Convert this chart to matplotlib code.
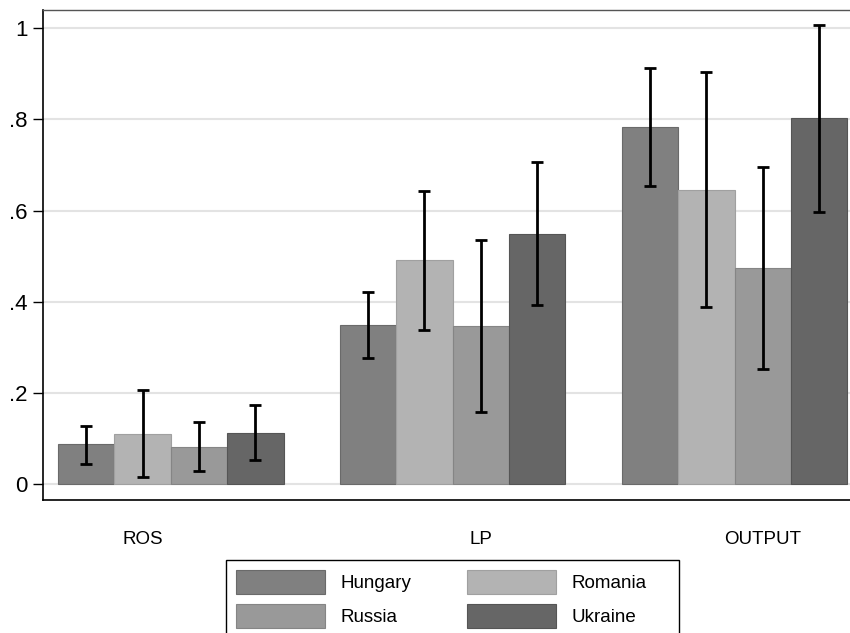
import numpy as np
import matplotlib
matplotlib.use("Agg")
import matplotlib.pyplot as plt
from matplotlib.patches import Rectangle

plt.rcParams['font.family'] = ['Liberation Sans', 'DejaVu Sans']

# data
groups = ["ROS", "LP", "OUTPUT"]
countries = ["Hungary", "Romania", "Russia", "Ukraine"]
colors = ["#808080", "#b3b3b3", "#999999", "#666666"]
edges = ["#6a6a6a", "#a0a0a0", "#858585", "#555555"]

hungary = [0.087, 0.350, 0.783]
romania = [0.110, 0.492, 0.646]
russia = [0.082, 0.347, 0.474]
ukraine = [0.113, 0.549, 0.802]

hungary_lo = [0.045, 0.277, 0.653]
hungary_hi = [0.128, 0.422, 0.912]
romania_lo = [0.015, 0.339, 0.389]
romania_hi = [0.206, 0.644, 0.905]
russia_lo = [0.029, 0.159, 0.252]
russia_hi = [0.136, 0.536, 0.696]
ukraine_lo = [0.053, 0.392, 0.597]
ukraine_hi = [0.173, 0.707, 1.007]

means = [hungary, romania, russia, ukraine]
lows = [hungary_lo, romania_lo, russia_lo, ukraine_lo]
highs = [hungary_hi, romania_hi, russia_hi, ukraine_hi]

yticks = [0, 0.2, 0.4, 0.6, 0.8, 1.0]
ytick_labels = ["0", ".2", ".4", ".6", ".8", "1"]
group_label_pos = [1.5, 7.5, 12.5]

fig = plt.figure(figsize=(8.5, 6.33), dpi=100)
ax = fig.add_axes([43 / 850, 1 - 500 / 633, 819 / 850, 490 / 633])

group_x = np.arange(len(groups)) * 5
bars = []
for j, name in enumerate(countries):
    x = group_x + j + 0.5
    b = ax.bar(x, means[j], width=1.0, color=colors[j], edgecolor=edges[j],
               linewidth=0.8, label=name, zorder=2)
    bars.append(b)
    m = np.array(means[j])
    err = [m - np.array(lows[j]), np.array(highs[j]) - m]
    ax.errorbar(x, m, yerr=err, fmt='none', ecolor='black', elinewidth=2,
                capsize=4, capthick=2, zorder=3)

ax.set_xlim(-0.266, 14.26)
ax.set_ylim(-0.035, 1.040)
ax.set_yticks(yticks)
ax.set_yticklabels(ytick_labels, fontsize=16)
ax.tick_params(axis='y', length=7, width=1, pad=4)
ax.set_xticks(group_label_pos)
ax.set_xticklabels(groups, fontsize=13.5)
ax.tick_params(axis='x', length=0, pad=22)

ax.grid(axis='y', color='#e3e3e3', linewidth=1.5, zorder=0)
ax.set_axisbelow(True)
for s in ax.spines.values():
    s.set_color('black')
    s.set_linewidth(1.2)
ax.spines['top'].set_color('#555555')
ax.spines['top'].set_linewidth(1)

# legend: row-major order (Hungary, Romania / Russia, Ukraine)
order = [0, 2, 1, 3]
fig.legend([bars[i] for i in order], [countries[i] for i in order],
           loc='upper left', bbox_to_anchor=(236 / 850, 1 - 570 / 633),
           ncol=2, fontsize=13.5, frameon=False, handlelength=4.75,
           handleheight=1.6, handletextpad=0.8, columnspacing=3.0,
           labelspacing=0.53, borderpad=0, borderaxespad=0)
fig.patches.append(Rectangle((226 / 850, -10 / 633), 453 / 850, 83 / 633,
                             transform=fig.transFigure, fill=False,
                             edgecolor='black', linewidth=1))

fig.savefig("out.png", dpi=100)
